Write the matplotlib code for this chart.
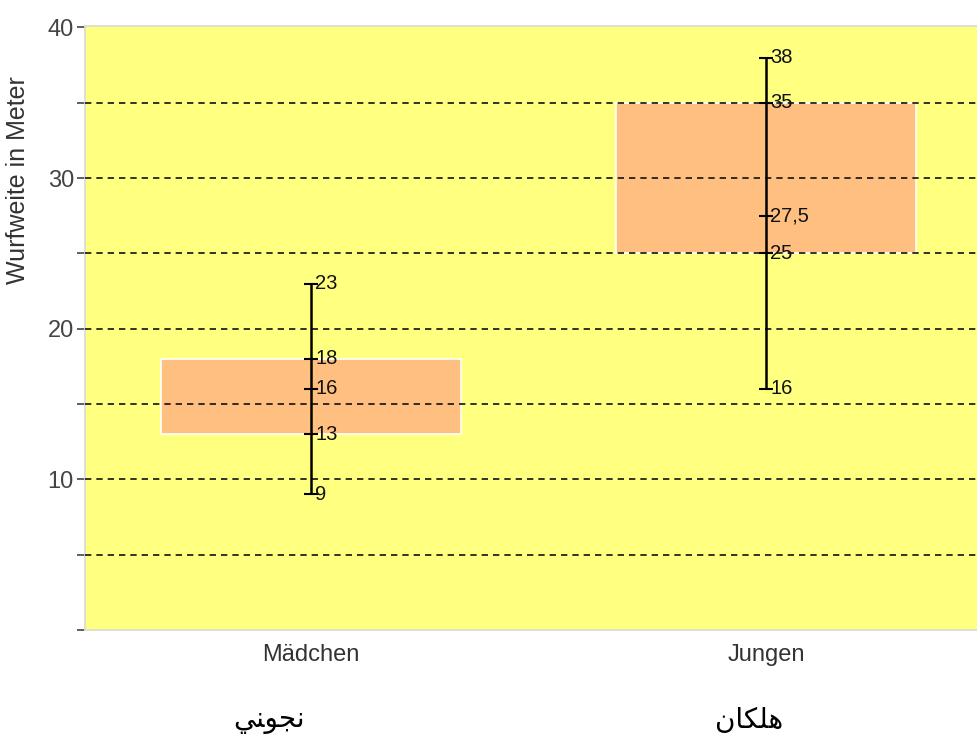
import matplotlib
matplotlib.use("Agg")
import matplotlib.pyplot as plt

# data
categories = ["Mädchen", "Jungen"]
arabic_labels = ["\ufef2\ufee8\ufeee\ufea0\ufee7", "\ufee5\ufe8e\ufedc\ufee0\ufeeb"]  # shaped, visual order
mins = [9, 16]
q1 = [13, 25]
medians = [16, 27.5]
q3 = [18, 35]
maxs = [23, 38]
y_ticks = [0, 5, 10, 15, 20, 25, 30, 35, 40]
y_ticklabels = ["", "", "10", "", "20", "", "30", "", "40"]
grid_levels = [5, 10, 15, 20, 25, 30, 35]

plt.rcParams['font.family'] = ['Liberation Sans', 'DejaVu Sans']

fig = plt.figure(figsize=(9.77, 7.42), dpi=100)
ax = fig.add_axes([0.087, 0.151, 0.913, 0.814])
ax.set_facecolor("#ffff80")

pos = list(range(len(categories)))

# boxes (Q1..Q3)
ax.bar(pos, [b - a for a, b in zip(q1, q3)], bottom=q1, width=0.66,
       color="#ffbf80", edgecolor="white", linewidth=1.2, zorder=2)

# dashed gridlines over the boxes
for g in grid_levels:
    ax.axhline(g, color="#111111", lw=1.2, dashes=(3.8, 3.0), zorder=3)

# whiskers with small ticks and value labels
for i in pos:
    ax.vlines(i, mins[i], maxs[i], color="black", lw=1.8, zorder=4)
    vals = [mins[i], q1[i], medians[i], q3[i], maxs[i]]
    ax.plot([i] * len(vals), vals, ls="none", marker="_", ms=10, mew=1.5,
            color="black", zorder=4)
    for v in vals:
        txt = ("%g" % v).replace(".", ",")
        ax.annotate(txt, (i, v), xytext=(3, 0), textcoords="offset points",
                    va="center", ha="left", fontsize=14.5, color="#111111",
                    zorder=5)

ax.set_xlim(-0.497, 1.463)
ax.set_ylim(0, 40.1)
ax.set_yticks(y_ticks)
ax.set_yticklabels(y_ticklabels)
ax.set_xticks(pos)
ax.set_xticklabels(categories)
ax.tick_params(axis="y", length=6, width=1.2, color="#444444",
               labelsize=17, labelcolor="#444444", pad=2)
ax.tick_params(axis="x", length=0, labelsize=17, labelcolor="#333333", pad=10)

for s in ["left", "bottom", "top"]:
    ax.spines[s].set_color("#d8d8d8")
    ax.spines[s].set_linewidth(1.2)
ax.spines["right"].set_visible(False)

ax.set_ylabel("Wurfweite in Meter", fontsize=18, color="#333333")
ax.yaxis.set_label_coords(-0.062, 0.745)

for i, lab in enumerate(arabic_labels):
    fig.text([0.275, 0.767][i], 0.03, lab, ha="center", va="center",
             fontsize=20, family=["DejaVu Sans"])

fig.savefig("out.png", dpi=100)
